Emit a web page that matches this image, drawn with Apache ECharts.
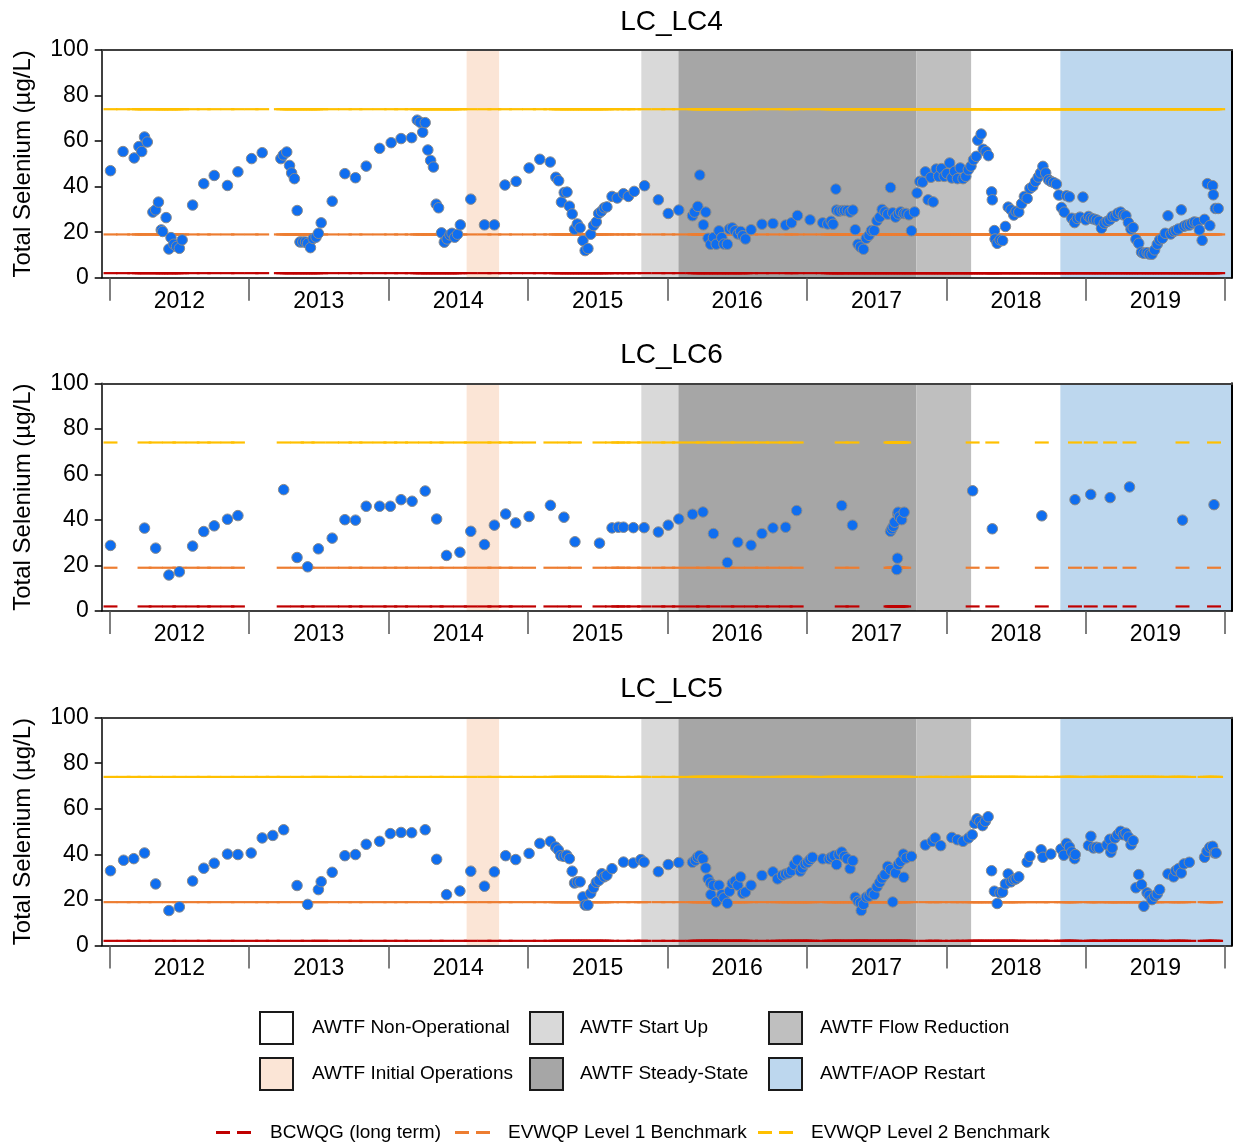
<!DOCTYPE html>
<html>
<head>
<meta charset="utf-8">
<script src="https://cdn.jsdelivr.net/npm/echarts@6/dist/echarts.min.js"></script>
<style>html,body{margin:0;padding:0;background:#fff}#c{width:1236px;height:1145px}</style>
</head>
<body>
<div id="c"></div>
<script>
// ---------------- DATA ----------------
const stations = ['LC_LC4', 'LC_LC6', 'LC_LC5'];
const yearTicks = [2012, 2013, 2014, 2015, 2016, 2017, 2018, 2019, 2020];
const yearLabels = [2012, 2013, 2014, 2015, 2016, 2017, 2018, 2019];
const yTicks = [0, 20, 40, 60, 80, 100];

// [decimal year, total selenium µg/L]
const lc4 = [[2012.006,47.0],[2012.096,55.4],[2012.176,52.6],[2012.21,57.6],[2012.23,55.4],[2012.25,61.8],[2012.27,59.6],[2012.31,28.8],[2012.33,29.8],[2012.35,33.2],[2012.37,21.0],[2012.38,20.3],[2012.405,26.4],[2012.425,12.6],[2012.44,17.6],[2012.46,14.7],[2012.48,13.7],[2012.50,12.9],[2012.52,16.6],[2012.595,31.9],[2012.675,41.3],[2012.75,44.9],[2012.845,40.5],[2012.92,46.5],[2013.018,52.3],[2013.094,54.9],
[2013.228,52.3],[2013.245,53.9],[2013.27,55.2],[2013.29,49.3],[2013.305,46.0],[2013.325,43.5],[2013.345,29.5],[2013.365,15.7],[2013.385,15.7],[2013.405,15.7],[2013.42,15.1],[2013.44,13.2],[2013.46,17.2],[2013.48,17.8],[2013.497,19.5],[2013.517,24.1],[2013.596,33.6],[2013.687,45.7],[2013.763,43.9],[2013.84,49.0],[2013.936,56.8],[2014.019,59.3],[2014.09,61.1],[2014.166,61.5],[2014.206,69.2],[2014.226,68.3],[2014.245,63.9],[2014.263,68.1],[2014.282,56.1],[2014.302,51.5],[2014.322,48.6],[2014.342,32.3],[2014.359,30.7],[2014.38,19.7],[2014.40,15.6],[2014.42,17.0],[2014.44,18.8],[2014.455,19.5],[2014.475,17.8],[2014.495,19.1],[2014.515,23.2],[2014.59,34.5],[2014.688,23.2],[2014.759,23.2],[2014.835,40.7],[2014.915,42.3],[2015.008,48.2],[2015.085,52.0],[2015.16,50.8],[2015.2,44.1],[2015.22,42.6],[2015.24,33.2],[2015.26,37.4],[2015.28,37.6],[2015.297,31.4],[2015.317,28.0],[2015.334,21.3],[2015.354,23.6],[2015.374,21.9],[2015.394,16.3],[2015.41,11.9],[2015.43,12.8],[2015.45,19.1],[2015.47,22.9],[2015.49,24.5],[2015.507,28.2],[2015.527,29.2],[2015.547,30.7],[2015.566,31.1],[2015.603,35.7],[2015.64,35.0],[2015.685,36.9],[2015.72,35.7],[2015.762,37.9],[2015.836,40.4],[2015.935,34.2],[2016.006,28.2],[2016.082,29.7],[2016.18,27.2],[2016.195,28.8],[2016.218,31.3],[2016.232,45.1],[2016.258,23.2],[2016.275,28.8],[2016.292,17.3],[2016.31,14.7],[2016.33,17.6],[2016.35,14.7],[2016.37,20.6],[2016.39,17.6],[2016.405,14.8],[2016.43,14.7],[2016.445,21.4],[2016.465,21.9],[2016.485,20.6],[2016.505,19.2],[2016.525,20.3],[2016.54,18.4],[2016.56,17.0],[2016.6,21.1],[2016.678,23.5],[2016.757,23.8],[2016.848,23.1],[2016.89,24.1],[2016.933,27.3],[2017.023,25.4],[2017.114,24.1],[2017.15,23.6],[2017.174,24.8],[2017.188,23.5],[2017.208,38.9],[2017.213,29.7],[2017.23,29.2],[2017.253,29.5],[2017.27,29.5],[2017.29,29.5],[2017.31,28.8],[2017.33,29.7],[2017.347,21.1],[2017.367,14.7],[2017.384,13.5],[2017.406,12.5],[2017.426,17.3],[2017.446,18.6],[2017.463,20.7],[2017.483,20.7],[2017.503,25.0],[2017.523,26.6],[2017.54,30.0],[2017.56,28.9],[2017.58,27.9],[2017.6,39.6],[2017.616,28.5],[2017.636,26.6],[2017.656,28.0],[2017.673,28.9],[2017.695,28.2],[2017.712,28.2],[2017.732,27.6],[2017.75,20.6],[2017.772,28.9],[2017.79,37.2],[2017.81,42.3],[2017.83,42.0],[2017.85,46.5],[2017.87,34.2],[2017.89,44.1],[2017.906,33.3],[2017.928,47.7],[2017.945,44.5],[2017.965,47.9],[2017.985,44.5],[2018.004,45.7],[2018.024,50.4],[2018.04,43.8],[2018.06,46.7],[2018.08,43.5],[2018.1,48.2],[2018.12,43.5],[2018.14,44.5],[2018.158,47.4],[2018.177,49.0],[2018.195,51.8],[2018.215,53.3],[2018.226,60.4],[2018.25,63.1],[2018.265,56.4],[2018.285,55.4],[2018.302,53.6],[2018.325,37.7],[2018.33,34.2],[2018.345,20.7],[2018.35,17.0],[2018.365,15.1],[2018.385,16.6],[2018.404,16.3],[2018.424,22.5],[2018.444,31.0],[2018.464,29.8],[2018.484,27.5],[2018.5,29.1],[2018.52,28.8],[2018.54,32.5],[2018.56,35.7],[2018.58,34.8],[2018.6,39.2],[2018.62,40.1],[2018.64,42.3],[2018.66,44.2],[2018.676,46.0],[2018.693,48.9],[2018.713,46.0],[2018.733,43.0],[2018.75,42.3],[2018.77,41.8],[2018.79,41.1],[2018.807,36.3],[2018.826,30.8],[2018.846,28.8],[2018.863,36.0],[2018.883,35.5],[2018.9,26.1],[2018.92,24.2],[2018.94,26.0],[2018.96,26.6],[2018.98,35.4],[2019.0,25.4],[2019.02,26.9],[2019.037,26.1],[2019.056,25.8],[2019.076,25.4],[2019.096,24.8],[2019.113,21.7],[2019.133,23.9],[2019.153,24.7],[2019.173,25.4],[2019.19,26.9],[2019.21,26.9],[2019.229,28.3],[2019.25,28.8],[2019.27,27.6],[2019.288,27.2],[2019.306,24.2],[2019.325,21.3],[2019.34,22.0],[2019.36,16.9],[2019.38,15.1],[2019.4,11.2],[2019.417,10.7],[2019.44,11.0],[2019.455,10.4],[2019.475,10.3],[2019.494,12.2],[2019.513,14.7],[2019.53,16.6],[2019.55,17.3],[2019.57,19.5],[2019.59,27.2],[2019.61,19.2],[2019.63,20.3],[2019.646,20.7],[2019.665,21.4],[2019.685,29.8],[2019.705,22.6],[2019.724,23.1],[2019.743,23.1],[2019.76,23.9],[2019.78,24.5],[2019.8,24.2],[2019.815,21.0],[2019.835,16.4],[2019.852,25.6],[2019.873,41.3],[2019.89,22.9],[2019.91,40.4],[2019.915,36.4],[2019.93,30.4],[2019.95,30.4]];

const lc6 = [[2012.006,28.8],[2012.25,36.4],[2012.33,27.6],[2012.425,15.8],[2012.50,17.2],[2012.595,28.5],[2012.675,34.9],[2012.75,37.4],[2012.845,40.3],[2012.92,41.9],[2013.248,53.3],[2013.344,23.5],[2013.42,19.4],[2013.497,27.3],[2013.596,32.0],[2013.687,40.1],[2013.763,39.9],[2013.84,46.0],[2013.936,46.0],[2014.013,46.0],[2014.09,48.9],[2014.169,48.2],[2014.263,52.7],[2014.345,40.4],[2014.416,24.4],[2014.512,25.8],[2014.59,35.0],[2014.688,29.2],[2014.759,37.7],[2014.84,42.6],[2014.912,38.7],[2015.008,41.5],[2015.161,46.4],[2015.258,41.2],[2015.337,30.4],[2015.513,29.8],[2015.603,36.5],[2015.648,36.8],[2015.685,36.8],[2015.756,36.6],[2015.833,36.6],[2015.935,34.7],[2016.006,37.7],[2016.082,40.4],[2016.18,42.5],[2016.255,43.5],[2016.33,34.0],[2016.43,21.3],[2016.505,30.2],[2016.6,28.9],[2016.678,34.0],[2016.757,36.5],[2016.848,36.8],[2016.927,44.1],[2017.25,46.3],[2017.327,37.7],[2017.6,35.0],[2017.61,36.1],[2017.62,37.2],[2017.63,39.0],[2017.645,18.2],[2017.65,23.2],[2017.652,42.6],[2017.655,43.4],[2017.664,41.3],[2017.68,40.1],[2017.698,43.4],[2018.189,52.8],[2018.33,36.1],[2018.685,41.8],[2018.923,48.9],[2019.036,51.2],[2019.175,49.8],[2019.314,54.5],[2019.694,39.9],[2019.92,46.7]];

const lc5 = [[2012.006,32.8],[2012.1,37.4],[2012.173,38.1],[2012.25,40.6],[2012.33,27.0],[2012.425,15.3],[2012.50,16.9],[2012.595,28.3],[2012.675,33.9],[2012.75,36.1],[2012.845,40.1],[2012.92,39.9],[2013.015,40.6],[2013.094,47.2],[2013.17,48.3],[2013.248,50.8],[2013.344,26.3],[2013.42,18.0],[2013.497,24.5],[2013.517,28.0],[2013.596,32.1],[2013.687,39.4],[2013.763,39.9],[2013.84,44.4],[2013.936,45.7],[2014.013,49.1],[2014.09,49.6],[2014.166,49.5],[2014.263,50.8],[2014.345,37.8],[2014.416,22.3],[2014.512,23.9],[2014.59,32.6],[2014.688,26.0],[2014.759,32.3],[2014.84,39.4],[2014.912,37.7],[2015.008,40.4],[2015.085,44.8],[2015.161,45.7],[2015.198,43.2],[2015.218,41.9],[2015.236,39.4],[2015.258,39.1],[2015.278,39.6],[2015.297,38.1],[2015.317,32.6],[2015.334,27.4],[2015.354,27.9],[2015.374,27.9],[2015.394,21.3],[2015.41,17.7],[2015.43,17.7],[2015.45,22.9],[2015.47,25.3],[2015.49,27.7],[2015.51,28.6],[2015.53,31.5],[2015.547,30.1],[2015.566,30.8],[2015.603,33.7],[2015.685,36.6],[2015.756,36.2],[2015.81,37.7],[2015.833,36.6],[2015.935,32.4],[2016.006,35.5],[2016.082,36.4],[2016.18,36.5],[2016.2,37.4],[2016.215,38.7],[2016.23,39.4],[2016.255,38.0],[2016.275,34.0],[2016.292,29.2],[2016.31,27.4],[2016.312,22.3],[2016.33,26.4],[2016.35,19.1],[2016.37,26.4],[2016.39,22.3],[2016.405,20.9],[2016.43,18.5],[2016.445,23.8],[2016.465,27.2],[2016.485,28.2],[2016.505,26.4],[2016.525,30.1],[2016.54,22.9],[2016.56,23.4],[2016.6,26.4],[2016.678,30.7],[2016.757,32.3],[2016.79,29.2],[2016.825,30.8],[2016.848,31.4],[2016.87,31.8],[2016.89,32.8],[2016.91,35.5],[2016.933,37.5],[2016.953,32.6],[2016.967,34.0],[2016.987,35.8],[2017.006,36.5],[2017.023,37.7],[2017.04,38.7],[2017.114,38.0],[2017.16,38.0],[2017.176,38.7],[2017.196,39.4],[2017.213,35.5],[2017.23,39.9],[2017.25,41.0],[2017.27,39.1],[2017.29,38.0],[2017.31,33.7],[2017.33,37.2],[2017.347,21.2],[2017.367,19.4],[2017.384,18.7],[2017.39,15.3],[2017.406,18.0],[2017.426,21.2],[2017.446,21.6],[2017.463,23.1],[2017.483,22.3],[2017.503,25.7],[2017.523,27.7],[2017.54,29.6],[2017.56,31.1],[2017.58,34.7],[2017.6,33.3],[2017.616,19.1],[2017.636,31.8],[2017.656,35.5],[2017.673,36.9],[2017.692,40.1],[2017.695,29.9],[2017.712,38.4],[2017.75,39.1],[2017.85,44.1],[2017.9,45.7],[2017.92,47.2],[2017.96,43.8],[2018.04,47.4],[2018.08,46.4],[2018.12,45.7],[2018.16,47.2],[2018.186,48.6],[2018.203,53.6],[2018.22,55.6],[2018.24,54.5],[2018.26,52.6],[2018.28,54.5],[2018.3,56.5],[2018.325,32.8],[2018.345,23.8],[2018.365,18.4],[2018.385,23.1],[2018.404,23.4],[2018.424,27.0],[2018.444,31.4],[2018.464,27.9],[2018.484,28.9],[2018.5,29.2],[2018.52,30.1],[2018.58,36.6],[2018.6,39.1],[2018.68,42.0],[2018.693,38.7],[2018.75,40.1],[2018.823,42.3],[2018.843,39.6],[2018.863,44.8],[2018.883,43.2],[2018.9,41.0],[2018.92,38.1],[2018.925,39.9],[2019.02,43.9],[2019.037,47.9],[2019.056,42.8],[2019.076,43.1],[2019.096,42.8],[2019.153,44.2],[2019.173,46.6],[2019.18,40.9],[2019.19,42.8],[2019.21,47.2],[2019.229,48.6],[2019.25,50.1],[2019.27,48.6],[2019.288,49.3],[2019.306,47.6],[2019.325,44.2],[2019.34,46.0],[2019.36,25.3],[2019.38,31.1],[2019.4,26.7],[2019.417,17.2],[2019.44,23.1],[2019.455,22.0],[2019.475,20.1],[2019.494,21.6],[2019.513,22.6],[2019.53,24.5],[2019.59,31.4],[2019.63,30.1],[2019.646,32.8],[2019.665,33.7],[2019.685,31.8],[2019.705,35.8],[2019.743,36.5],[2019.852,38.7],[2019.87,41.3],[2019.89,43.1],[2019.91,43.5],[2019.925,40.6],[2019.935,40.6]];

// Benchmarks (µg/L)
const benchNames = ['BCWQG (long term)', 'EVWQP Level 1 Benchmark', 'EVWQP Level 2 Benchmark'];
const benchValues = [2, 19, 74];

// AWTF phases (decimal years)
const phaseNames = ['AWTF Non-Operational', 'AWTF Initial Operations', 'AWTF Start Up', 'AWTF Steady-State', 'AWTF Flow Reduction', 'AWTF/AOP Restart'];
const phaseStarts = [null, 2014.560, 2015.813, 2016.079, 2017.786, 2018.818];
const phaseEnds   = [null, 2014.793, 2016.079, 2017.786, 2018.178, 2020.049];

// ---------------- STYLE / LAYOUT ----------------
const xMin = 2011.943, xMax = 2020.049;
const FONT = '"Liberation Sans", Arial, sans-serif';
const phaseColors = ['#ffffff', '#fbe5d6', '#d9d9d9', '#a6a6a6', '#bfbfbf', '#bdd7ee'];
const benchColors = ['#c00000', '#ed7d31', '#ffc000'];
const halfSpan = 0.05; // each sample's benchmark segment
const gridTops = [50, 383.3, 717.7];
const gridH = 227.7;
const stationData = [lc4, lc6, lc5];

const chart = echarts.init(document.getElementById('c'), null, {renderer: 'canvas'});

const grid = [], xAxis = [], yAxis = [], series = [], title = [];
gridTops.forEach((top, i) => {
  grid.push({left: 101.7, right: 4, top: top, height: gridH, containLabel: false});
  title.push({text: stations[i], left: 666.5, textAlign: 'center', top: top - 47,
    textStyle: {fontSize: 28, fontWeight: 'normal', color: '#000', fontFamily: FONT}});
  xAxis.push({gridIndex: i, type: 'value', min: xMin, max: xMax, position: 'bottom', z: 10,
    axisLine: {show: true, onZero: false, lineStyle: {color: '#000', width: 1.5}},
    axisTick: {show: true, customValues: yearTicks, length: 23, lineStyle: {color: '#555', width: 1.5}},
    axisLabel: {customValues: yearLabels.map(y => y + 0.5), formatter: v => String(Math.floor(v)),
      fontSize: 23, color: '#000', margin: 12, fontFamily: FONT},
    splitLine: {show: false}});
  xAxis.push({gridIndex: i, type: 'value', min: xMin, max: xMax, position: 'top', z: 10,
    axisLine: {show: true, onZero: false, lineStyle: {color: '#404040', width: 2}},
    axisTick: {show: false}, axisLabel: {show: false}, splitLine: {show: false}});
  yAxis.push({gridIndex: i, type: 'value', min: yTicks[0], max: yTicks[yTicks.length - 1], interval: 20, z: 10,
    name: 'Total Selenium (µg/L)', nameLocation: 'middle', nameGap: 66,
    nameTextStyle: {fontSize: 24, color: '#000', fontFamily: FONT},
    axisLine: {show: true, lineStyle: {color: '#000', width: 1.5}},
    axisTick: {show: true, length: 7, lineStyle: {color: '#000', width: 1.5}},
    axisLabel: {fontSize: 23, color: '#000', margin: 13, fontFamily: FONT},
    splitLine: {show: false}});
  yAxis.push({gridIndex: i, type: 'value', min: 0, max: 100, position: 'right', z: 10,
    axisLine: {show: true, lineStyle: {color: '#000', width: 2}},
    axisTick: {show: false}, axisLabel: {show: false}, splitLine: {show: false}});

  const xi = 2 * i, yi = 2 * i;
  // phase shading
  phaseNames.forEach((pn, k) => {
    series.push({
      name: pn, type: 'custom', xAxisIndex: xi, yAxisIndex: yi, silent: true, z: 1,
      itemStyle: {color: phaseColors[k]},
      encode: {x: [0, 1]},
      data: phaseStarts[k] === null ? [] : [[phaseStarts[k], phaseEnds[k]]],
      renderItem: (params, api) => {
        const a = api.coord([api.value(0), 100]);
        const b = api.coord([api.value(1), 0]);
        return {type: 'rect', shape: {x: a[0], y: a[1], width: b[0] - a[0], height: b[1] - a[1]},
          style: {fill: api.visual('color')}};
      }
    });
  });
  // benchmark lines: a short segment around each sampling date
  benchNames.forEach((bn, k) => {
    const val = benchValues[k];
    series.push({
      name: bn, type: 'custom', xAxisIndex: xi, yAxisIndex: yi, silent: true, z: 2,
      itemStyle: {color: benchColors[k]},
      encode: {x: 0},
      data: stationData[i].map(p => [p[0]]),
      renderItem: (params, api) => {
        const d = api.value(0);
        const p1 = api.coord([d - halfSpan, val]);
        const p2 = api.coord([d + halfSpan, val]);
        return {type: 'line', shape: {x1: p1[0], y1: p1[1], x2: p2[0], y2: p2[1]},
          style: {stroke: benchColors[k], lineWidth: 2.2}};
      }
    });
  });
  // samples
  series.push({
    name: stations[i], type: 'scatter', xAxisIndex: xi, yAxisIndex: yi, z: 3, silent: true,
    symbol: 'circle', symbolSize: 10.5,
    itemStyle: {color: '#0f6ef0', borderColor: '#8a8a8a', borderWidth: 1, opacity: 1},
    data: stationData[i]
  });
});

const dashIcon = 'path://M0,0H14V3H0Z M21,0H35V3H21Z';
const boxLegend = (left, names, pad) => ({
  left: left, top: 1006, orient: 'vertical', itemWidth: 33, itemHeight: 32, itemGap: 12,
  selectedMode: false, icon: 'rect',
  itemStyle: {borderColor: '#1a1a1a', borderWidth: 2},
  textStyle: {fontSize: 19, color: '#000', fontFamily: FONT, padding: [0, 0, 0, pad]},
  data: names
});
const lineLegend = (left, k, pad) => ({
  left: left, top: 1118, orient: 'horizontal', itemWidth: 35, itemHeight: 3,
  selectedMode: false,
  textStyle: {fontSize: 19, color: '#000', fontFamily: FONT, padding: [0, 0, 0, pad]},
  data: [{name: benchNames[k], icon: dashIcon, itemStyle: {color: benchColors[k], borderWidth: 0}}]
});

chart.setOption({
  animation: false,
  backgroundColor: '#ffffff',
  textStyle: {fontFamily: FONT},
  title: title,
  grid: grid,
  xAxis: xAxis,
  yAxis: yAxis,
  legend: [
    boxLegend(254, [phaseNames[0], phaseNames[1]], 14),
    boxLegend(524, [phaseNames[2], phaseNames[3]], 12),
    boxLegend(763, [phaseNames[4], phaseNames[5]], 13),
    lineLegend(211, 0, 14),
    lineLegend(450, 1, 13),
    lineLegend(753, 2, 13)
  ],
  series: series
});
</script>
</body>
</html>
